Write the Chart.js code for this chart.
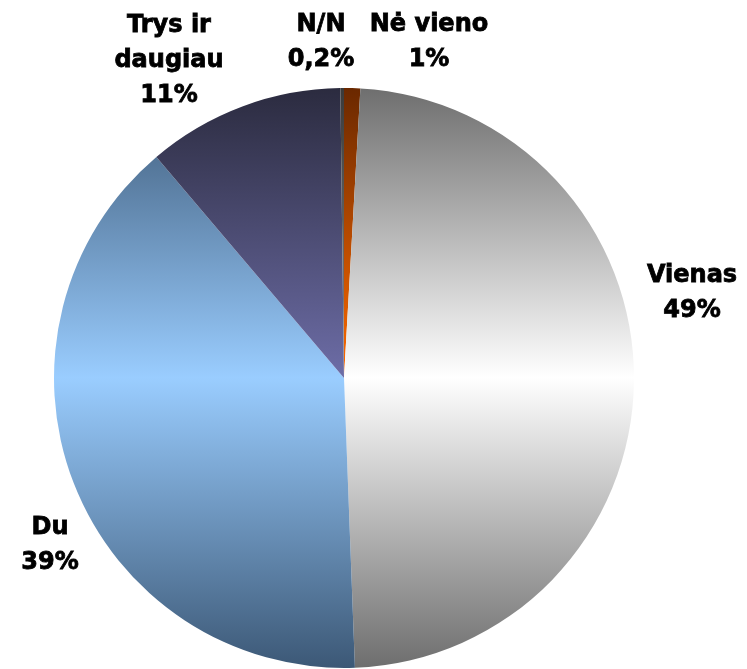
<!DOCTYPE html>
<html>
<head>
<meta charset="utf-8">
<script src="https://cdn.jsdelivr.net/npm/chart.js@4.4.0/dist/chart.umd.min.js"></script>
<style>
  body { margin: 0; background: #fff; }
  #wrap { width: 747px; height: 669px; position: relative; }
</style>
</head>
<body>
<div id="wrap"><canvas id="pieChart"></canvas></div>
<script>
// clockwise from 12 o'clock
const categories = ["Nė vieno", "Vienas", "Du", "Trys ir daugiau", "N/N"];
const values = [0.9, 48.5, 39.4, 11.0, 0.2];
const percentLabels = ["1%", "49%", "39%", "11%", "0,2%"];
const labelLines = [["Nė vieno"], ["Vienas"], ["Du"], ["Trys ir", "daugiau"], ["N/N"]];

// dark edge / light middle of each slice gradient
const darkColors = ["#6a2800", "#6e6e6e", "#3c5876", "#2b2b3f", "#3a3a3a"];
const lightColors = ["#ff6a00", "#ffffff", "#9acdff", "#6d6da7", "#8a8a8a"];

// label anchor, offset from the pie centre (first line middle)
const labelOffsets = [[85, -353], [348, -102], [-294, 150], [-175, -352], [-23, -353]];

function sliceFill(ctx) {
  const i = ctx.dataIndex;
  const area = ctx.chart.chartArea;
  if (!area) return darkColors[i];
  const g = ctx.chart.ctx.createLinearGradient(0, area.top, 0, area.bottom);
  g.addColorStop(0, darkColors[i]);
  g.addColorStop(0.5, lightColors[i]);
  g.addColorStop(1, darkColors[i]);
  return g;
}

const outsideLabels = {
  id: "outsideLabels",
  afterDatasetsDraw(chart) {
    const meta = chart.getDatasetMeta(0);
    const c = chart.ctx;
    const cx = meta.data[0].x, cy = meta.data[0].y;
    c.save();
    c.font = "bold 24px 'DejaVu Sans'";
    c.fillStyle = "#000";
    c.strokeStyle = "#000";
    c.lineWidth = 0.8;
    c.textAlign = "center";
    c.textBaseline = "middle";
    meta.data.forEach((arc, i) => {
      const lines = labelLines[i].concat([percentLabels[i]]);
      const x = cx + labelOffsets[i][0];
      const y = cy + labelOffsets[i][1];
      lines.forEach((t, k) => {
        c.fillText(t, x, y + k * 35);
        c.strokeText(t, x, y + k * 35);
      });
    });
    c.restore();
  }
};

new Chart(document.getElementById("pieChart"), {
  type: "pie",
  data: {
    labels: categories,
    datasets: [{
      data: values,
      backgroundColor: sliceFill,
      borderWidth: 0,
      hoverOffset: 0
    }]
  },
  options: {
    responsive: true,
    maintainAspectRatio: false,
    animation: false,
    layout: { padding: { left: 54, top: 88, right: 113, bottom: 1 } },
    plugins: { legend: { display: false }, tooltip: { enabled: false } }
  },
  plugins: [outsideLabels]
});
</script>
</body>
</html>
